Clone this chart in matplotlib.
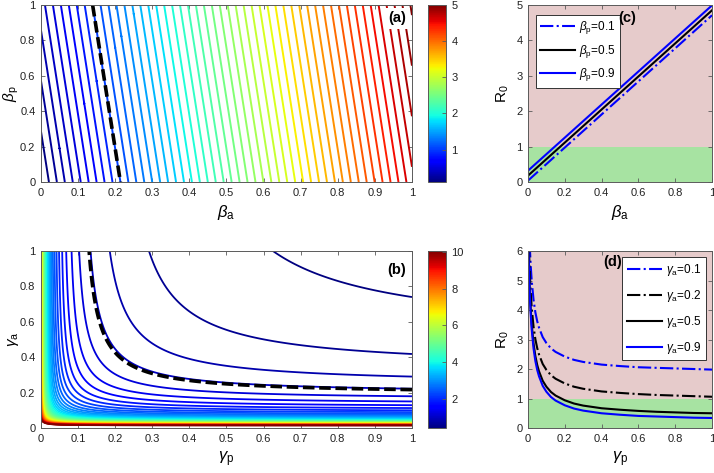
import matplotlib

matplotlib.use("Agg")
import matplotlib.pyplot as plt
import numpy as np
from matplotlib.cm import ScalarMappable
from matplotlib.colors import Normalize
from matplotlib.ticker import FuncFormatter

# --------------------------------------------------------------------------- #
# Theme
# --------------------------------------------------------------------------- #
FRAME = "#5a5a5a"
PINK = "#e6cbcb"
GREEN = "#a7e3a2"
BLUE = "#0000ff"

plt.rcParams.update({
    "font.family": ["Liberation Sans", "DejaVu Sans"],
    "font.size": 8,
    "mathtext.fontset": "custom",
    "mathtext.rm": "Liberation Sans",
    "mathtext.it": "Liberation Sans:italic",
    "mathtext.bf": "Liberation Sans:bold",
    "axes.edgecolor": FRAME,
    "axes.linewidth": 0.7,
    "xtick.direction": "in",
    "ytick.direction": "in",
    "xtick.top": True,
    "ytick.right": True,
    "xtick.major.size": 3,
    "ytick.major.size": 3,
    "xtick.color": FRAME,
    "ytick.color": FRAME,
    "xtick.labelcolor": "#222222",
    "ytick.labelcolor": "#222222",
    "figure.facecolor": "white",
})

# --------------------------------------------------------------------------- #
# Data
# --------------------------------------------------------------------------- #
# (a) R0 over (beta_a, beta_p): R0 ~ K_BA*beta_a + K_BP*beta_p
K_BA = 4.67
K_BP = 0.35
LEVELS_A = np.arange(0.1, 5.01, 0.1)
CLIM_A = (0.1, 5.0)

# (b) R0 over (gamma_p, gamma_a): R0 ~ C_GA/(gamma_a+MU_A) + C_GP/(gamma_p+MU_P)
C_GA = 0.196
MU_A = 0.005
C_GP = 0.119
MU_P = 0.018
LEVELS_B = np.arange(0.38, 10.1, 0.2)
CLIM_B = (0.4, 10.05)

# (c) R0 vs beta_a, straight lines (end points)
BETA_A_ENDS = [0.0, 1.0]
R0_BP_01 = [0.04, 4.71]
R0_BP_05 = [0.18, 4.85]
R0_BP_09 = [0.32, 4.99]

# (d) R0 vs gamma_p
GAMMA_P = [0.0, 0.005, 0.01, 0.015, 0.02, 0.03, 0.04, 0.05, 0.06, 0.08, 0.1,
           0.125, 0.15, 0.2, 0.25, 0.3, 0.4, 0.5, 0.6, 0.7, 0.8, 0.9, 1.0]
R0_GA_01 = [8.48, 7.04, 6.12, 5.48, 5.00, 4.35, 3.92, 3.62, 3.40, 3.08, 2.88,
            2.70, 2.58, 2.42, 2.31, 2.24, 2.15, 2.10, 2.06, 2.04, 2.02, 2.00, 1.98]
R0_GA_02 = [7.57, 6.13, 5.21, 4.57, 4.09, 3.44, 3.01, 2.71, 2.49, 2.17, 1.97,
            1.79, 1.67, 1.51, 1.40, 1.33, 1.24, 1.19, 1.15, 1.12, 1.10, 1.08, 1.06]
R0_GA_05 = [7.00, 5.56, 4.64, 4.00, 3.52, 2.87, 2.44, 2.14, 1.92, 1.60, 1.40,
            1.22, 1.10, 0.94, 0.83, 0.76, 0.67, 0.62, 0.58, 0.55, 0.53, 0.51, 0.50]
R0_GA_09 = [6.83, 5.39, 4.47, 3.83, 3.35, 2.70, 2.27, 1.97, 1.75, 1.43, 1.23,
            1.05, 0.93, 0.77, 0.66, 0.59, 0.50, 0.45, 0.41, 0.39, 0.37, 0.35, 0.34]

FMT = FuncFormatter(lambda v, _: f"{v:g}")
DASH = (0, (3.2, 1.3))


def _frame(ax):
    ax.xaxis.set_major_formatter(FMT)
    ax.yaxis.set_major_formatter(FMT)
    ax.tick_params(labelsize=8, width=0.6)
    ax.tick_params(axis="x", pad=4)
    ax.tick_params(axis="y", pad=4)


def _tag(ax, text, x, y, box=True):
    kw = dict(boxstyle="square,pad=0.25", fc="white", ec="none") if box else None
    ax.text(x, y, text, transform=ax.transAxes, ha="right", va="top",
            fontsize=10.5, fontweight="bold", bbox=kw, zorder=6)


def _colorbar(fig, rect, clim, ticks):
    cax = fig.add_axes(rect)
    sm = ScalarMappable(norm=Normalize(*clim), cmap="jet")
    cb = fig.colorbar(sm, cax=cax, ticks=ticks)
    cb.outline.set_edgecolor(FRAME)
    cb.outline.set_linewidth(0.7)
    cax.tick_params(direction="in", length=3, width=0.6, labelsize=8,
                    color=FRAME, right=True, left=False, pad=4)
    cax.yaxis.set_major_formatter(FMT)


fig = plt.figure(figsize=(7.14, 4.73), dpi=100)

LEFT, W = 0.0574, 0.5196
CB_L, CB_W = 0.5994, 0.0252
R_L, R_W = 0.7395, 0.2577
TOP_B, BOT_B, H = 0.6152, 0.0951, 0.3742

# --------------------------------------------------------------------------- #
# (a)
# --------------------------------------------------------------------------- #
ax_a = fig.add_axes([LEFT, TOP_B, W, H])
ba, bp = np.meshgrid(np.linspace(0, 1, 301), np.linspace(0, 1, 301))
za = K_BA * ba + K_BP * bp
ax_a.contour(ba, bp, za, levels=LEVELS_A, cmap="jet", norm=Normalize(*CLIM_A),
             linewidths=1.4)
ax_a.contour(ba, bp, za, levels=[1.0], colors="k", linewidths=2.6,
             linestyles=[DASH])
ax_a.set_xlim(0, 1)
ax_a.set_ylim(0, 1)
ax_a.set_xticks(np.arange(0, 1.01, 0.1))
ax_a.set_yticks(np.arange(0, 1.01, 0.2))
_frame(ax_a)
ax_a.set_xlabel(r"$\beta_\mathregular{a}$", fontsize=12, labelpad=4)
ax_a.set_ylabel(r"$\beta_\mathregular{p}$", fontsize=11)
ax_a.yaxis.set_label_coords(-0.054, 0.5)
_tag(ax_a, "(a)", 0.985, 0.965)
_colorbar(fig, [CB_L, TOP_B, CB_W, H], CLIM_A, [1, 2, 3, 4, 5])

# --------------------------------------------------------------------------- #
# (b)
# --------------------------------------------------------------------------- #
ax_b = fig.add_axes([LEFT, BOT_B, W, H])
gp, ga = np.meshgrid(np.linspace(0, 1, 600), np.linspace(0, 1, 600))
zb = C_GA / (ga + MU_A) + C_GP / (gp + MU_P)
ax_b.contour(gp, ga, zb, levels=LEVELS_B, cmap="jet", norm=Normalize(*CLIM_B),
             linewidths=1.3)
ax_b.contour(gp, ga, zb, levels=[1.0], colors="k", linewidths=2.6,
             linestyles=[DASH])
ax_b.set_xlim(0, 1)
ax_b.set_ylim(0, 1)
ax_b.set_xticks(np.arange(0, 1.01, 0.1))
ax_b.set_yticks(np.arange(0, 1.01, 0.2))
_frame(ax_b)
ax_b.set_xlabel(r"$\gamma_\mathregular{p}$", fontsize=12, labelpad=4)
ax_b.set_ylabel(r"$\gamma_\mathregular{a}$", fontsize=11)
ax_b.yaxis.set_label_coords(-0.054, 0.5)
_tag(ax_b, "(b)", 0.985, 0.93)
_colorbar(fig, [CB_L, BOT_B, CB_W, H], CLIM_B, [2, 4, 6, 8, 10])

# --------------------------------------------------------------------------- #
# (c)
# --------------------------------------------------------------------------- #
ax_c = fig.add_axes([R_L, TOP_B, R_W, H])
ax_c.axhspan(0, 1, color=GREEN, lw=0, zorder=0)
ax_c.axhspan(1, 5, color=PINK, lw=0, zorder=0)
ax_c.plot(BETA_A_ENDS, R0_BP_01, color=BLUE, lw=1.5, ls="-.",
          label=r"$\beta_\mathregular{p}$=0.1")
ax_c.plot(BETA_A_ENDS, R0_BP_05, color="k", lw=1.5,
          label=r"$\beta_\mathregular{p}$=0.5")
ax_c.plot(BETA_A_ENDS, R0_BP_09, color=BLUE, lw=1.5,
          label=r"$\beta_\mathregular{p}$=0.9")
ax_c.set_xlim(0, 1)
ax_c.set_ylim(0, 5)
ax_c.set_xticks(np.arange(0, 1.01, 0.2))
ax_c.set_yticks(range(6))
_frame(ax_c)
ax_c.set_xlabel(r"$\beta_\mathregular{a}$", fontsize=12, labelpad=4)
ax_c.set_ylabel(r"R$_0$", fontsize=11, labelpad=4)
ax_c.legend(loc="upper left", bbox_to_anchor=(0.01, 0.975), fontsize=8.5,
            handlelength=3.0, handletextpad=0.3, borderpad=0.35,
            labelspacing=0.55, fancybox=False, framealpha=1,
            edgecolor="#333333").get_frame().set_linewidth(0.7)
_tag(ax_c, "(c)", 0.59, 0.965, box=False)

# --------------------------------------------------------------------------- #
# (d)
# --------------------------------------------------------------------------- #
ax_d = fig.add_axes([R_L, BOT_B, R_W, H])
ax_d.axhspan(0, 1, color=GREEN, lw=0, zorder=0)
ax_d.axhspan(1, 6, color=PINK, lw=0, zorder=0)
ax_d.plot(GAMMA_P, R0_GA_01, color=BLUE, lw=1.5, ls="-.",
          label=r"$\gamma_\mathregular{a}$=0.1")
ax_d.plot(GAMMA_P, R0_GA_02, color="k", lw=1.5, ls="-.",
          label=r"$\gamma_\mathregular{a}$=0.2")
ax_d.plot(GAMMA_P, R0_GA_05, color="k", lw=1.5,
          label=r"$\gamma_\mathregular{a}$=0.5")
ax_d.plot(GAMMA_P, R0_GA_09, color=BLUE, lw=1.5,
          label=r"$\gamma_\mathregular{a}$=0.9")
ax_d.set_xlim(0, 1)
ax_d.set_ylim(0, 6)
ax_d.set_xticks(np.arange(0, 1.01, 0.2))
ax_d.set_yticks(range(7))
_frame(ax_d)
ax_d.set_xlabel(r"$\gamma_\mathregular{p}$", fontsize=12, labelpad=4)
ax_d.set_ylabel(r"R$_0$", fontsize=11, labelpad=4)
ax_d.legend(loc="upper right", bbox_to_anchor=(1.0, 1.0), fontsize=8.5,
            handlelength=3.0, handletextpad=0.3, borderpad=0.4,
            labelspacing=0.85, fancybox=False, framealpha=1,
            edgecolor="#333333").get_frame().set_linewidth(0.7)
_tag(ax_d, "(d)", 0.51, 0.975, box=False)

fig.savefig("out.png", dpi=100, facecolor="white")
